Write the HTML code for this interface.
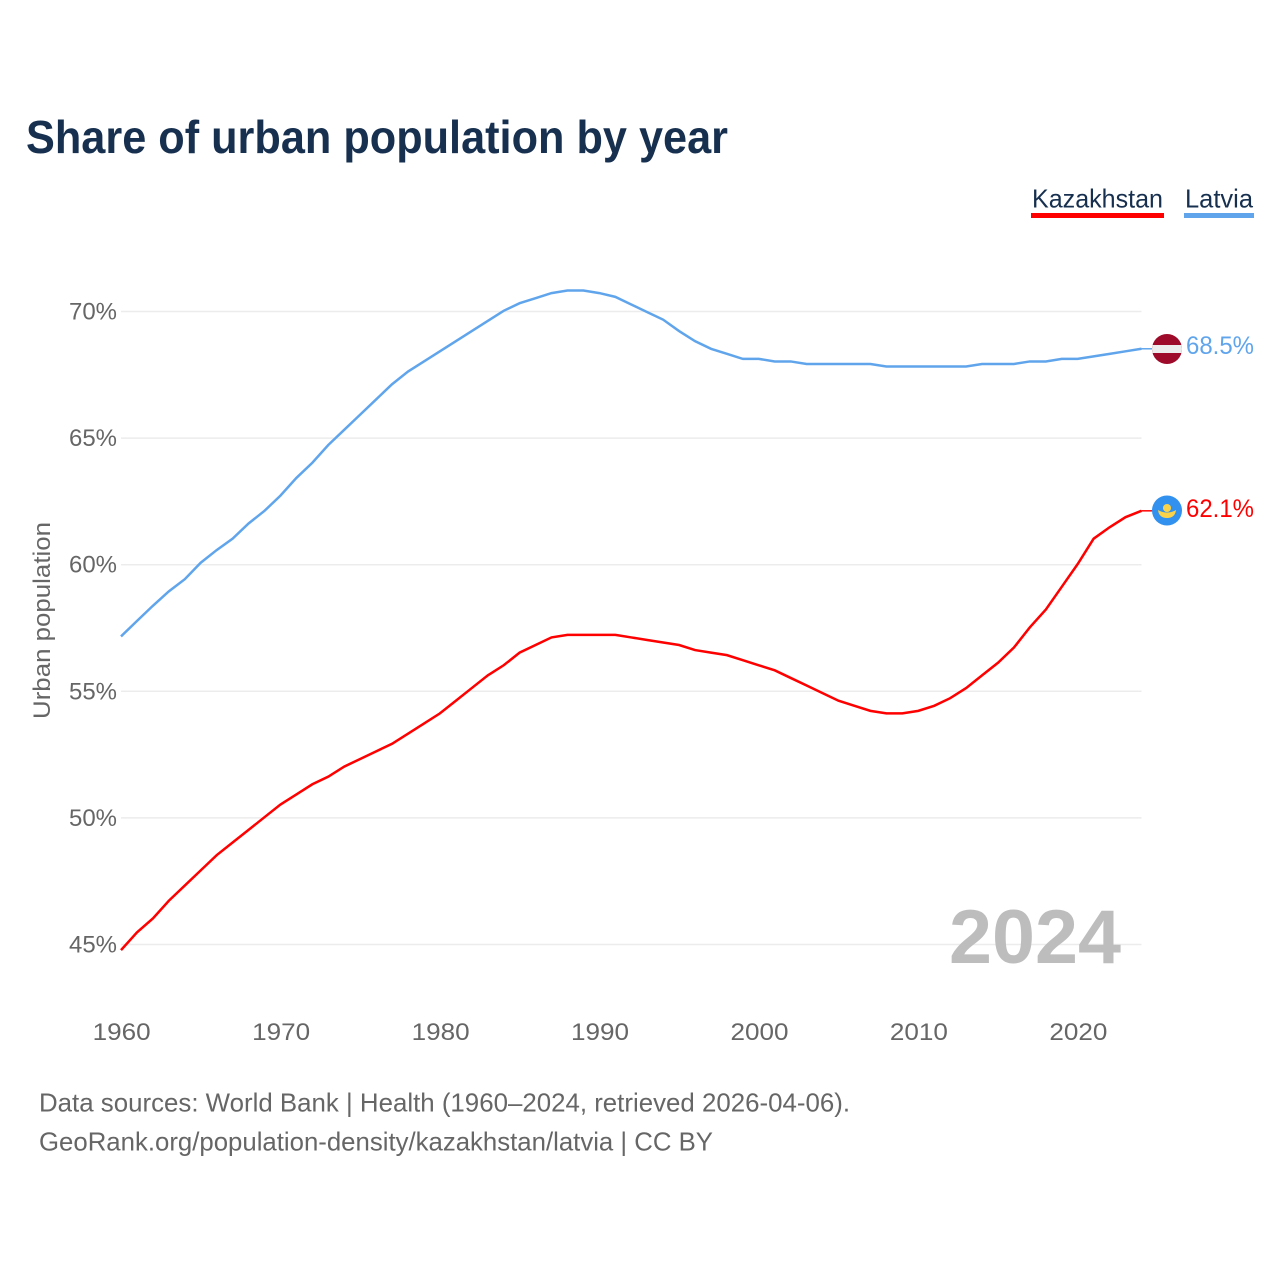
<!DOCTYPE html>
<html lang="en">
<head>
<meta charset="utf-8">
<title>Share of urban population by year</title>
<style>
html,body{margin:0;padding:0;background:#fff;width:1280px;height:1280px;overflow:hidden}
svg{display:block}
text{font-family:"Liberation Sans",sans-serif}
</style>
</head>
<body>
<svg id="chart" xmlns="http://www.w3.org/2000/svg" width="1280" height="1280" viewBox="0 0 1280 1280">
  <rect x="0" y="0" width="1280" height="1280" fill="#fff"/>
  <text x="26" y="153" font-size="46" font-weight="700" fill="#17304f" textLength="702" lengthAdjust="spacingAndGlyphs">Share of urban population by year</text>

  <g>
    <g>
      <text x="1032" y="207.5" font-size="26" fill="#17304f" textLength="131" lengthAdjust="spacingAndGlyphs">Kazakhstan</text>
      <rect x="1031" y="213" width="133" height="5" fill="#ff0000"/>
    </g>
    <g>
      <text x="1185" y="207.5" font-size="26" fill="#17304f" textLength="68" lengthAdjust="spacingAndGlyphs">Latvia</text>
      <rect x="1184" y="213" width="70" height="5" fill="#60a5ec"/>
    </g>
  </g>

  <g id="grid"></g>
  <g id="yticks"></g>
  <g id="xticks"></g>

  <text transform="translate(50,620.5) rotate(-90)" text-anchor="middle" font-size="24.5" fill="#666" textLength="197" lengthAdjust="spacingAndGlyphs">Urban population</text>

  <text x="949" y="963" font-size="76" font-weight="700" fill="#bdbdbd" textLength="172" lengthAdjust="spacingAndGlyphs">2024</text>

  <g id="series" transform="translate(0,-0.7)"></g>

  <defs>
    <clipPath id="latvia-clip"><circle cx="1167" cy="349" r="15"/></clipPath>
  </defs>
  <g clip-path="url(#latvia-clip)">
    <rect x="1152" y="334" width="30" height="30" fill="#9e0b2a"/>
    <rect x="1152" y="345" width="30" height="8" fill="#ececec"/>
  </g>
  <g>
    <circle cx="1167" cy="510.5" r="15" fill="#3291ee"/>
    <circle cx="1167" cy="508" r="4" fill="#fbd34a"/>
    <path d="M1158 510 Q1162 512.5 1167 512.5 Q1172 512.5 1176 510 Q1175 518 1167 518 Q1159 518 1158 510 Z" fill="#fbd34a"/>
  </g>

  <text x="1186" y="354" font-size="25" fill="#60a5ec" textLength="68" lengthAdjust="spacingAndGlyphs">68.5%</text>
  <text x="1186" y="517" font-size="25" fill="#ff0000" textLength="68" lengthAdjust="spacingAndGlyphs">62.1%</text>

  <text x="39" y="1111.5" font-size="26" fill="#666" textLength="811" lengthAdjust="spacingAndGlyphs">Data sources: World Bank | Health (1960–2024, retrieved 2026-04-06).</text>
  <text x="39" y="1150.5" font-size="26" fill="#666" textLength="674" lengthAdjust="spacingAndGlyphs">GeoRank.org/population-density/kazakhstan/latvia | CC BY</text>
</svg>
<script>
const firstYear = 1960;
const kazakhstan = [44.75,45.45,46.0,46.7,47.3,47.9,48.5,49.0,49.5,50.0,50.5,50.9,51.3,51.6,52.0,52.3,52.6,52.9,53.3,53.7,54.1,54.6,55.1,55.6,56.0,56.5,56.8,57.1,57.2,57.2,57.2,57.2,57.1,57.0,56.9,56.8,56.6,56.5,56.4,56.2,56.0,55.8,55.5,55.2,54.9,54.6,54.4,54.2,54.1,54.1,54.2,54.4,54.7,55.1,55.6,56.1,56.7,57.5,58.2,59.1,60.0,61.0,61.45,61.85,62.1];
const latvia = [57.14,57.75,58.35,58.92,59.4,60.05,60.55,61.0,61.6,62.1,62.7,63.4,64.0,64.7,65.3,65.9,66.5,67.1,67.6,68.0,68.4,68.8,69.2,69.6,70.0,70.3,70.5,70.7,70.8,70.8,70.7,70.55,70.25,69.95,69.65,69.2,68.8,68.5,68.3,68.1,68.1,68.0,68.0,67.9,67.9,67.9,67.9,67.9,67.8,67.8,67.8,67.8,67.8,67.8,67.9,67.9,67.9,68.0,68.0,68.1,68.1,68.2,68.3,68.4,68.5];
const yTickValues = [45,50,55,60,65,70];
const xTickValues = [1960,1970,1980,1990,2000,2010,2020];

const NS = 'http://www.w3.org/2000/svg';
function xScale(year){ return 121 + (year - 1960) * 15.945; }
function yScale(pct){ return 944.5 - (pct - 45) * 25.32; }

const grid = document.getElementById('grid');
const yticks = document.getElementById('yticks');
yTickValues.forEach(function(v){
  const line = document.createElementNS(NS,'line');
  
  
  line.setAttribute('x1', xScale(1960));
  line.setAttribute('x2', xScale(2024));
  line.setAttribute('y1', yScale(v));
  line.setAttribute('y2', yScale(v));
  line.setAttribute('stroke', '#ececec');
  line.setAttribute('stroke-width', '1.5');
  grid.appendChild(line);
  const t = document.createElementNS(NS,'text');
  
  
  t.setAttribute('x', 117);
  t.setAttribute('y', yScale(v) + 8);
  t.setAttribute('text-anchor', 'end');
  t.setAttribute('font-size', '24.5');
  t.setAttribute('fill', '#666');
  t.setAttribute('textLength', '48');
  t.setAttribute('lengthAdjust', 'spacingAndGlyphs');
  t.textContent = v + '%';
  yticks.appendChild(t);
});

const xticks = document.getElementById('xticks');
xTickValues.forEach(function(y){
  const t = document.createElementNS(NS,'text');
  
  
  t.setAttribute('x', xScale(y) + 0.7);
  t.setAttribute('y', 1040);
  t.setAttribute('text-anchor', 'middle');
  t.setAttribute('font-size', '24.5');
  t.setAttribute('fill', '#666');
  t.setAttribute('textLength', '58');
  t.setAttribute('lengthAdjust', 'spacingAndGlyphs');
  t.textContent = y;
  xticks.appendChild(t);
});

function pathFor(values){
  let d = '';
  values.forEach(function(v,i){
    d += (i ? 'L' : 'M') + xScale(firstYear + i).toFixed(2) + ' ' + yScale(v).toFixed(2) + ' ';
  });
  return d;
}
const seriesGroup = document.getElementById('series');

const latviaLine = document.createElementNS(NS,'path');


latviaLine.setAttribute('d', pathFor(latvia));
latviaLine.setAttribute('fill', 'none');
latviaLine.setAttribute('stroke', '#60a5ec');
latviaLine.setAttribute('stroke-width', '2.5');
seriesGroup.appendChild(latviaLine);

const kazakhstanLine = document.createElementNS(NS,'path');


kazakhstanLine.setAttribute('d', pathFor(kazakhstan));
kazakhstanLine.setAttribute('fill', 'none');
kazakhstanLine.setAttribute('stroke', '#ff0000');
kazakhstanLine.setAttribute('stroke-width', '2.5');
seriesGroup.appendChild(kazakhstanLine);

const latviaTail = document.createElementNS(NS,'line');


latviaTail.setAttribute('x1', xScale(2024));
latviaTail.setAttribute('x2', 1153);
latviaTail.setAttribute('y1', yScale(latvia[latvia.length-1]));
latviaTail.setAttribute('y2', yScale(latvia[latvia.length-1]));
latviaTail.setAttribute('stroke', '#60a5ec');
latviaTail.setAttribute('stroke-width', '1.5');
seriesGroup.appendChild(latviaTail);

const kazakhstanTail = document.createElementNS(NS,'line');


kazakhstanTail.setAttribute('x1', xScale(2024));
kazakhstanTail.setAttribute('x2', 1153);
kazakhstanTail.setAttribute('y1', yScale(kazakhstan[kazakhstan.length-1]));
kazakhstanTail.setAttribute('y2', yScale(kazakhstan[kazakhstan.length-1]));
kazakhstanTail.setAttribute('stroke', '#ff0000');
kazakhstanTail.setAttribute('stroke-width', '1.5');
seriesGroup.appendChild(kazakhstanTail);
</script>
</body>
</html>
